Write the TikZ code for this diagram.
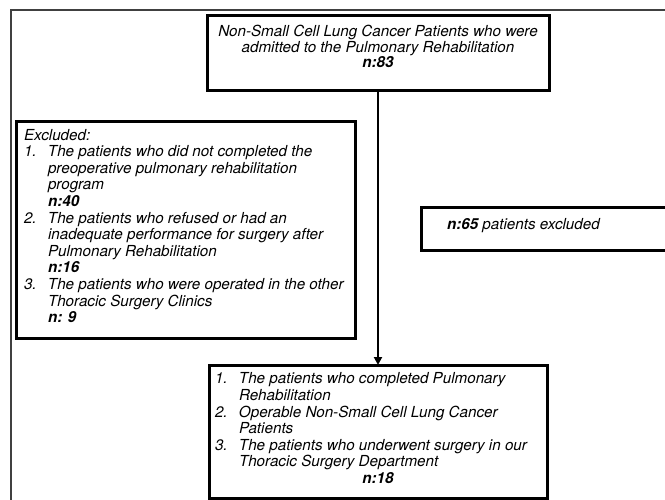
\documentclass[tikz,border=0pt]{standalone}
\usepackage{fontspec}
\setmainfont{TeX Gyre Heros}
\usetikzlibrary{arrows.meta,positioning}

\begin{document}
\begin{tikzpicture}[x=1pt,y=-1pt,
    box/.style={draw=black, line width=3pt, rectangle, inner sep=0pt, outer sep=0pt, anchor=north west},
    txt/.style={inner sep=0pt, outer sep=0pt, font=\fontsize{15.2}{16.6}\selectfont\itshape},
    flow/.style={line width=2.2pt, -{Triangle[length=8pt,width=8pt]}}]
  \useasboundingbox (0,0) rectangle (665,499);
  % outer frame
  \draw[line width=1.6pt, black!75] (667,10) -- (11,10) -- (11,501);

  % boxes
  \node[box, minimum width=342, minimum height=75] (admit) at (207,15) {};
  \node[box, minimum width=339, minimum height=217] (excl) at (16,121) {};
  \node[box, minimum width=246, minimum height=43] (out) at (421,207) {};
  \node[box, minimum width=338, minimum height=133] (final) at (209,365) {};

  % texts
  \node[txt, font=\fontsize{15.2}{15.5}\selectfont\itshape, anchor=north] (admitText) at (378,25) {%
    \begin{tabular}{@{}c@{}}
      Non-Small Cell Lung Cancer Patients who were\\
      admitted to the Pulmonary Rehabilitation\\
      \textbf{n:83}
    \end{tabular}};
  \node[txt, anchor=north west] (exclText) at (24,128.4) {%
    \begin{tabular}{@{}p{24pt}@{}l@{}}
      \multicolumn{2}{@{}l@{}}{Excluded:}\\
      1. & The patients who did not completed the\\
         & preoperative pulmonary rehabilitation\\
         & program\\
         & \textbf{n:40}\\
      2. & The patients who refused or had an\\
         & inadequate performance for surgery after\\
         & Pulmonary Rehabilitation\\
         & \textbf{n:16}\\
      3. & The patients who were operated in the other\\
         & Thoracic Surgery Clinics\\
         & \textbf{n: 9}
    \end{tabular}};
  \node[txt, anchor=base west] (outText) at (447,229) {\textbf{n:65} patients excluded};
  \node[txt, anchor=north west] (finalText) at (215,372.3) {%
    \begin{tabular}{@{}p{24pt}@{}p{302pt}@{}}
      1. & The patients who completed Pulmonary\\
         & Rehabilitation\\
      2. & Operable Non-Small Cell Lung Cancer\\
         & Patients\\
      3. & The patients who underwent surgery in our\\
         & Thoracic Surgery Department\\
      \multicolumn{2}{@{}c@{}}{\textbf{n:18}}
    \end{tabular}};

  % flow
  \draw[flow] (admit.south) -- (final.north);
\end{tikzpicture}
\end{document}
